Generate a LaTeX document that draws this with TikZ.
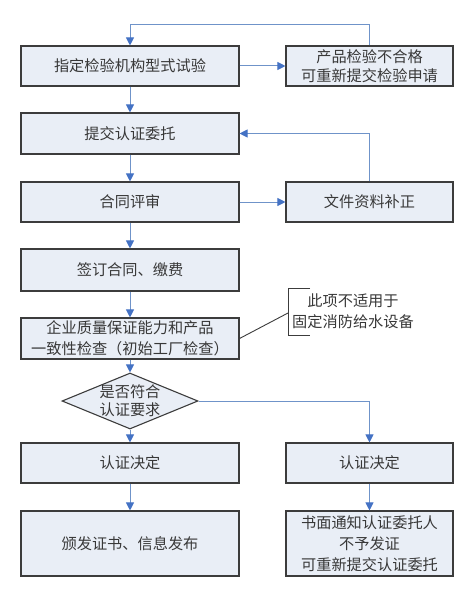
\documentclass[tikz,border=0pt]{standalone}
\usepackage{fontspec}
\setmainfont{Noto Sans CJK SC}
\usetikzlibrary{arrows.meta}
\usetikzlibrary{shapes.geometric}

\definecolor{boxfill}{HTML}{E9EEF6}
\definecolor{boxline}{HTML}{3C3C3C}
\definecolor{flowline}{HTML}{6F93C9}
\definecolor{flowtip}{HTML}{4472C4}
\definecolor{txt}{HTML}{383838}

\begin{document}
\begin{tikzpicture}[x=1pt, y=-1pt,
  every node/.style={text=txt, font=\fontsize{15.2}{21}\selectfont, align=center},
  stepbox/.style={draw=boxline, fill=boxfill, line width=1.1pt, minimum width=218pt, minimum height=40pt, inner sep=0pt},
  sidebox/.style={stepbox, minimum width=167pt},
  check/.style={draw=boxline, fill=boxfill, line width=1.1pt, shape=diamond, aspect=2.43, inner sep=-4pt, minimum width=136pt, minimum height=56pt},
  flow/.style={draw=flowline, line width=1pt, -{Triangle[length=8pt, width=8pt, color=flowtip, fill=flowtip]}}]
\useasboundingbox (0,0) rectangle (474,602);
\node[stepbox] (s1) at (130,66) {指定检验机构型式试验};
\node[sidebox] (r1) at (369.5,66) {产品检验不合格\\[-2pt]可重新提交检验申请};
\node[stepbox, minimum height=41pt] (s2) at (130,133.5) {提交认证委托};
\node[stepbox] (s3) at (130,202) {合同评审};
\node[sidebox] (r3) at (369.5,202) {文件资料补正};
\node[stepbox, minimum height=42pt] (s4) at (130,270) {签订合同、缴费};
\node[stepbox, minimum height=41pt] (s5) at (130,338.5) {企业质量保证能力和产品\\一致性检查（初始工厂检查）};
\node[check] (q) at (130,401) {是否符合\\[-3pt]认证要求};
\node[stepbox] (s6) at (130,463) {认证决定};
\node[sidebox] (r6) at (369.5,463) {认证决定};
\node[stepbox, minimum height=65pt] (s7) at (130,543.5) {颁发证书、信息发布};
\node[sidebox, minimum height=65pt] (r7) at (369.5,543.5) {书面通知认证委托人\\不予发证\\可重新提交认证委托};
\node (note) at (353,311) {此项不适用于\\固定消防给水设备};
\coordinate (nt) at (288,313);

\draw[flow] (s1) -- (s2);
\draw[flow] (s1) -- (r1);
\draw[flow] (r1.north) -- (369.5,24.5) -- (130,24.5) -- (s1.north);
\draw[flow] (s2) -- (s3);
\draw[flow] (s3) -- (r3);
\draw[flow] (r3.north) -- (369.5,133.5) -- (s2.east);
\draw[flow] (s3) -- (s4);
\draw[flow] (s4) -- (s5);
\draw[flow] (s5) -- (q);
\draw[flow] (q) -- (s6);
\draw[flow] (q.east) -- (369.5,401) -- (r6.north);
\draw[flow] (s6) -- (s7);
\draw[flow] (r6) -- (r7);
\draw[boxline, line width=0.9pt] (s5.east) -- (nt);
\draw[boxline, line width=0.9pt] (310,288) -- (288,288) -- (288,335) -- (310,335);
\end{tikzpicture}
\end{document}
